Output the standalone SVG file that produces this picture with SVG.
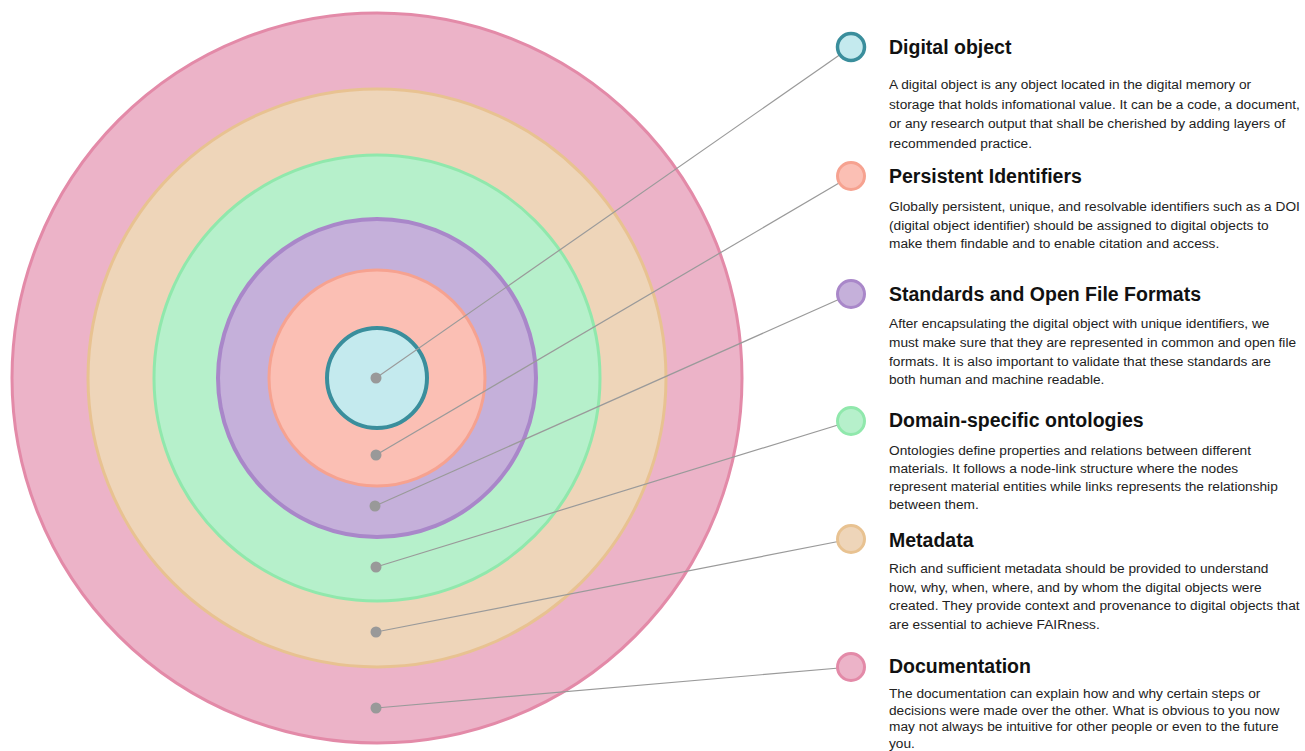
<svg xmlns="http://www.w3.org/2000/svg" width="1305" height="751" viewBox="0 0 1305 751">
<style>
.title{font-family:"Liberation Sans",Arial,sans-serif;font-weight:bold;font-size:19.5px;fill:#111}
.body{font-family:"Liberation Sans",Arial,sans-serif;font-size:13.7px;fill:#222}
.conn{stroke:#9a9a9a;stroke-width:1.2;fill:none}
.dot{fill:#999}
.c-doc{fill:#ecb3c8;stroke:#e38aa8}
.c-meta{fill:#eed5b9;stroke:#e8c291}
.c-dom{fill:#b6f0cb;stroke:#90e8ac}
.c-std{fill:#c5b0da;stroke:#a987c9}
.c-pid{fill:#fbbfb4;stroke:#f6a290}
.c-dig{fill:#c4eaee;stroke:#3a8e9c}
</style>
<rect width="1305" height="751" fill="#fff"/>
<g id="rings">
<circle class="c-doc" cx="377" cy="378" r="365" stroke-width="3"/>
<circle class="c-meta" cx="377" cy="378" r="289" stroke-width="3"/>
<circle class="c-dom" cx="377" cy="378" r="223" stroke-width="3"/>
<circle class="c-std" cx="377" cy="378" r="159" stroke-width="4"/>
<circle class="c-pid" cx="377" cy="378" r="108" stroke-width="3"/>
<circle class="c-dig" cx="377" cy="378" r="50" stroke-width="4"/>
</g>
<g id="connectors">
<line class="conn" x1="376" y1="378" x2="851" y2="47"/>
<line class="conn" x1="376" y1="455" x2="851" y2="176"/>
<line class="conn" x1="375" y1="506" x2="851" y2="294"/>
<line class="conn" x1="376" y1="567" x2="851" y2="421"/>
<line class="conn" x1="376" y1="632" x2="851" y2="539"/>
<line class="conn" x1="376" y1="708" x2="851" y2="667"/>
<circle class="dot" cx="376" cy="378" r="5.5"/>
<circle class="dot" cx="376" cy="455" r="5.5"/>
<circle class="dot" cx="375" cy="506" r="5.5"/>
<circle class="dot" cx="376" cy="567" r="5.5"/>
<circle class="dot" cx="376" cy="632" r="5.5"/>
<circle class="dot" cx="376" cy="708" r="5.5"/>
</g>
<g id="digital-object">
<circle class="c-dig" cx="851" cy="47" r="13.5" stroke-width="3.5"/>
<text class="title" x="889" y="54">Digital object</text>
<text class="body" x="889" y="89">A digital object is any object located in the digital memory or<tspan x="889" dy="19.5">storage that holds infomational value. It can be a code, a document,</tspan><tspan x="889" dy="19.5">or any research output that shall be cherished  by adding layers of</tspan><tspan x="889" dy="19.5">recommended practice.</tspan></text>
</g>
<g id="persistent-identifiers">
<circle class="c-pid" cx="851" cy="176" r="13.5" stroke-width="3"/>
<text class="title" x="889" y="183">Persistent Identifiers</text>
<text class="body" x="889" y="211">Globally persistent, unique, and resolvable identifiers such as a DOI<tspan x="889" dy="18.5">(digital object identifier) should be assigned to digital objects to</tspan><tspan x="889" dy="18.5">make them findable and to enable citation and access.</tspan></text>
</g>
<g id="standards">
<circle class="c-std" cx="851" cy="294" r="13.5" stroke-width="3"/>
<text class="title" x="889" y="301">Standards and Open File Formats</text>
<text class="body" x="889" y="328">After encapsulating the digital object with unique identifiers, we<tspan x="889" dy="18.8">must make sure that they are represented in common and open file</tspan><tspan x="889" dy="18.8">formats. It is also important to validate that these standards are</tspan><tspan x="889" dy="18.8">both human and machine readable.</tspan></text>
</g>
<g id="domain-ontologies">
<circle class="c-dom" cx="851" cy="421" r="13.5" stroke-width="3"/>
<text class="title" x="889" y="427">Domain-specific ontologies</text>
<text class="body" x="889" y="455">Ontologies define properties and relations between different<tspan x="889" dy="18">materials. It follows a node-link structure  where the nodes</tspan><tspan x="889" dy="18">represent material entities while links represents the relationship</tspan><tspan x="889" dy="18">between them.</tspan></text>
</g>
<g id="metadata">
<circle class="c-meta" cx="851" cy="539" r="13.5" stroke-width="3"/>
<text class="title" x="889" y="547">Metadata</text>
<text class="body" x="889" y="573">Rich and sufficient metadata should be provided to understand<tspan x="889" dy="18.7">how, why, when, where, and by whom the digital objects were</tspan><tspan x="889" dy="18.7">created. They provide context and provenance to digital objects that</tspan><tspan x="889" dy="18.7">are essential to achieve FAIRness.</tspan></text>
</g>
<g id="documentation">
<circle class="c-doc" cx="851" cy="667" r="13.5" stroke-width="3"/>
<text class="title" x="889" y="673">Documentation</text>
<text class="body" x="889" y="698">The documentation can explain how and why certain steps or<tspan x="889" dy="16.5">decisions were made over the other. What is obvious to you now</tspan><tspan x="889" dy="16.5">may not always be intuitive for other people or even to the future</tspan><tspan x="889" dy="16.5">you.</tspan></text>
</g>
</svg>
